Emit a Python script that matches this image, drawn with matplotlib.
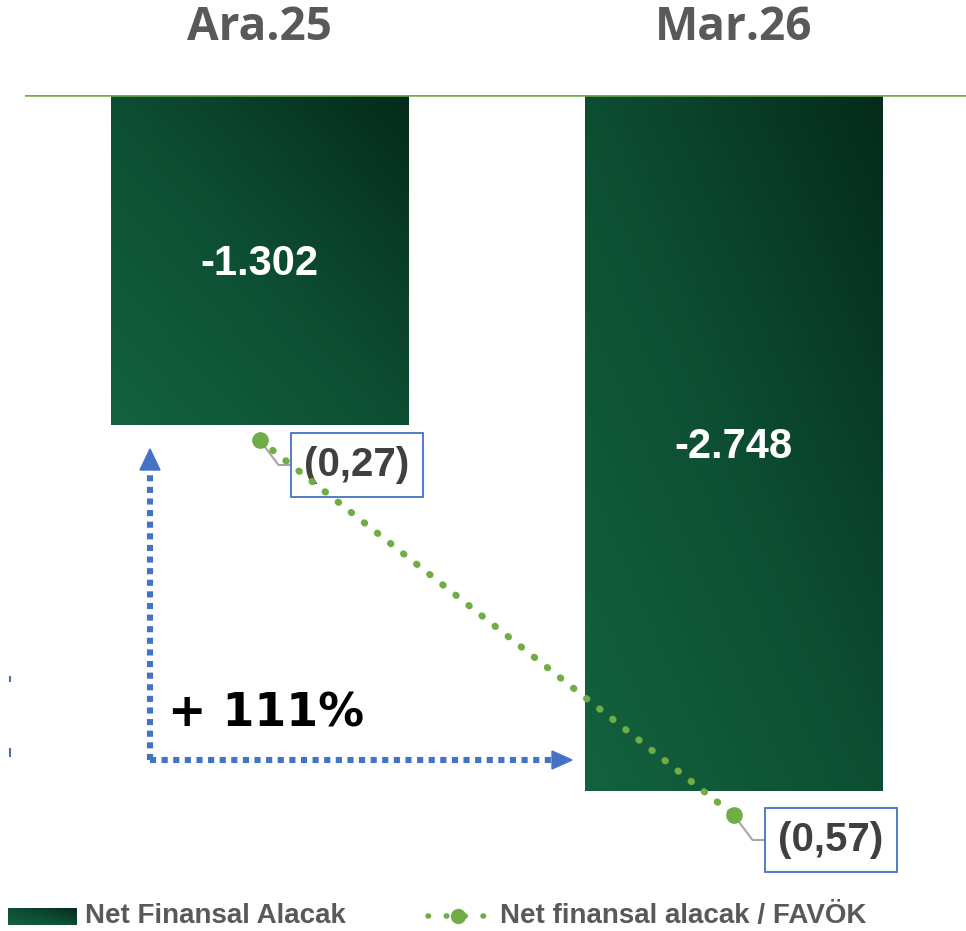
import numpy as np
import matplotlib
matplotlib.use("Agg")
import matplotlib.pyplot as plt
from matplotlib.colors import LinearSegmentedColormap
from matplotlib.patches import Polygon
from matplotlib.lines import Line2D

# data
periods = ["Ara.25", "Mar.26"]
net_receivable = [-1302, -2748]
bar_labels = ["-1.302", "-2.748"]
ratio = [-0.27, -0.57]
ratio_labels = ["(0,27)", "(0,57)"]
change_label = "+ 111%"
legend_bar = "Net Finansal Alacak"
legend_line = "Net finansal alacak / FAVÖK"

W, H = 966, 931
fig = plt.figure(figsize=(W / 100, H / 100), dpi=100)


def fx(px):
    return px / W


def fy(py):
    return 1 - py / H


green_cmap = LinearSegmentedColormap.from_list("g", ["#13623F", "#0D4E33", "#052B1B"])
grey = "#595959"
blue = "#4472C4"
lgreen = "#70AD47"
narrow = ["Liberation Sans Narrow", "Liberation Sans"]

ax = fig.add_axes([fx(25), fy(860), fx(966) - fx(25), fy(95) - fy(860)])
ax.set_xlim(-0.495, 1.49)
ax.set_ylim(-3021, 0)
ax.axis("off")

x = np.arange(len(periods))
bars = ax.bar(x, net_receivable, width=0.627, color="none", zorder=2)

# diagonal gradient fill inside each bar
u, v = np.meshgrid(np.linspace(0, 1, 200), np.linspace(0, 1, 200))
grad = (u + v) / 2
for b in bars:
    x0, y0 = b.get_x(), b.get_y() + b.get_height()
    x1, y1 = b.get_x() + b.get_width(), b.get_y()
    im = ax.imshow(grad, cmap=green_cmap, origin="lower", aspect="auto",
                   extent=[x0, x1, y0, y1], zorder=2)
    im.set_clip_path(b)

ax.axhline(0, color=lgreen, lw=1.8, zorder=3)

for xi, val, lab in zip(x, net_receivable, bar_labels):
    ax.text(xi, val / 2 - 15, lab, ha="center", va="center", color="white",
            fontsize=30, fontweight="bold", family="Liberation Sans", zorder=4)

for xi, lab in zip(x, periods):
    fig.text(fx(259.5 + 474 * xi), fy(27), lab, ha="center", va="center",
             color=grey, fontsize=33, fontweight="bold", family="Open Sans")

# secondary axis for the ratio line
ax2 = ax.twinx()
ax2.set_ylim(-0.606, 0.006)
ax2.axis("off")
ax2.plot(x, ratio, color=lgreen, lw=5, linestyle=(0, (0.1, 2.3)),
         dash_capstyle="round", zorder=6)
ax2.plot(x, ratio, "o", color=lgreen, ms=11, zorder=7)

for xi, val, lab in zip(x, ratio, ratio_labels):
    ax2.annotate(lab, xy=(xi, val), xytext=(70, -18), textcoords="offset points",
                 ha="center", va="center", color="#404040", fontsize=29,
                 fontweight="bold", family=narrow,
                 bbox=dict(boxstyle="square,pad=0.33", fc="white", ec=blue, lw=1.3),
                 arrowprops=dict(arrowstyle="-", color="#A6A6A6", lw=1.5,
                                 connectionstyle="angle,angleA=0,angleB=-53",
                                 shrinkA=0, shrinkB=2),
                 zorder=5)

# change arrows
fig.add_artist(Line2D([fx(150), fx(150)], [fy(760), fy(468)], color=blue, lw=4.4,
                      linestyle=(0, (1, 0.9)), solid_capstyle="butt"))
fig.add_artist(Line2D([fx(150), fx(555)], [fy(760), fy(760)], color=blue, lw=4.4,
                      linestyle=(0, (1, 0.9)), solid_capstyle="butt"))
fig.add_artist(Polygon([[fx(140), fy(470)], [fx(160), fy(470)], [fx(150), fy(449)]],
                       closed=True, color=blue))
fig.add_artist(Polygon([[fx(552), fy(751)], [fx(552), fy(769)], [fx(572), fy(760)]],
                       closed=True, color=blue))
fig.text(fx(168), fy(714), change_label, ha="left", va="center", color="black",
         fontsize=33, fontweight="bold", family="DejaVu Sans")

# small marks at the left edge
fig.add_artist(Line2D([fx(10), fx(10)], [fy(677), fy(681)], color="#4A6FA5", lw=1.5))
fig.add_artist(Line2D([fx(10), fx(10)], [fy(749), fy(756)], color="#4A6FA5", lw=1.5))

# legend
lax = fig.add_axes([fx(8), fy(925), fx(77) - fx(8), fy(908) - fy(925)])
lax.imshow(grad, cmap=green_cmap, origin="lower", aspect="auto")
lax.axis("off")
fig.text(fx(85), fy(916), legend_bar, ha="left", va="center", color=grey,
         fontsize=20, fontweight="bold", family=narrow)
fig.add_artist(Line2D([fx(428), fx(490)], [fy(916), fy(916)], color=lgreen, lw=4,
                      linestyle=(0, (0.1, 3.2)), dash_capstyle="round"))
fig.add_artist(Line2D([fx(458)], [fy(916)], marker="o", color=lgreen, ms=10))
fig.text(fx(500), fy(916), legend_line, ha="left", va="center", color=grey,
         fontsize=20, fontweight="bold", family=narrow)

fig.savefig("out.png", dpi=100)
